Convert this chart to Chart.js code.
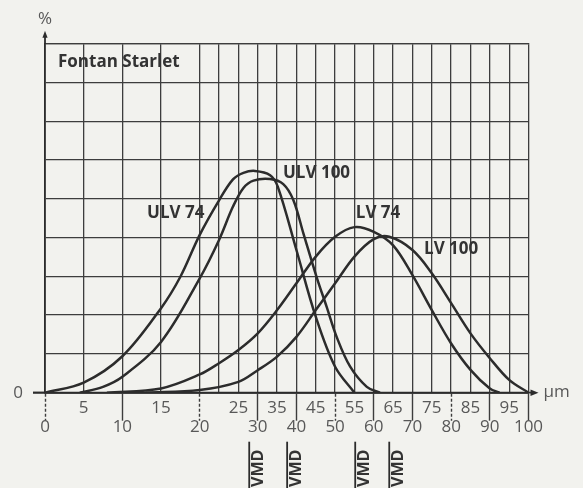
<!DOCTYPE html>
<html>
<head>
<meta charset="utf-8">
<script src="https://cdn.jsdelivr.net/npm/chart.js@4.4.1/dist/chart.umd.min.js"></script>
<style>
  html, body { margin: 0; padding: 0; background: #f2f2ee; }
  canvas { display: block; }
</style>
</head>
<body>
<canvas id="spectrum" width="583" height="488"></canvas>
<script>
// droplet spectra, [droplet size in µm, share in %]
const ulv74 = [[0,0],[5,0.26],[10,0.94],[15,2.18],[17.5,2.99],[20,4.07],[22.5,4.96],[24.3,5.5],[26.3,5.67],[29.3,5.72],[33.2,5.61],[35.2,5.31],[40,3.68],[45,1.96],[50,0.67],[55,0]];
const ulv100 = [[4.5,0],[7.5,0.15],[10,0.41],[15,1.31],[20,2.95],[22.5,3.94],[24.3,4.8],[26.3,5.28],[28.9,5.47],[33.2,5.51],[36.6,5.38],[39.2,4.97],[41.8,4.11],[45.2,2.99],[47.8,2.22],[50.4,1.44],[53.9,0.67],[58.2,0.15],[61.6,0]];
const lv74 = [[8,0],[15,0.11],[20,0.47],[22.5,0.76],[25,1.1],[30,1.53],[35,2.13],[40,2.82],[45,3.51],[50,4.02],[55,4.27],[60,4.15],[65,3.8],[70,3.03],[75,2.13],[80,1.27],[85,0.59],[90,0.11],[92.5,0]];
const lv100 = [[13,0],[20,0.07],[25,0.28],[30,0.58],[35,0.93],[40,1.44],[45,2.13],[50,2.82],[55,3.51],[60,3.96],[64,4.02],[70,3.68],[75,3.08],[80,2.31],[85,1.53],[90,0.89],[95,0.33],[100,0]];

const seriesNames = ['ULV 74', 'ULV 100', 'LV 74', 'LV 100'];
const vmdValues = [27.8, 37.6, 55.2, 64];   // µm

const upperTicks = [5, 15, 25, 35, 45, 55, 65, 75, 85, 95];
const lowerTicks = [0, 10, 20, 30, 40, 50, 60, 70, 80, 90, 100];

const ink = '#2c2c2c';
const gridInk = '#3d3d3d';
const labelInk = '#585858';
const fontFamily = '"Open Sans", "Noto Sans", sans-serif';

// the paper has 25 narrow columns; 0-25 µm uses 2.5 µm per column, above that 5 µm
function umToColumn(v) {
  return v <= 25 ? v / 2.5 : 10 + (v - 25) / 5;
}
function columnToUm(c) {
  return c <= 10 ? c * 2.5 : 25 + (c - 10) * 5;
}

class PiecewiseScale extends Chart.LinearScale {
  getPixelForValue(value) {
    if (value === null || value === undefined) return NaN;
    return this.getPixelForDecimal(umToColumn(value) / 25);
  }
  getValueForPixel(pixel) {
    return columnToUm(this.getDecimalForPixel(pixel) * 25);
  }
}
PiecewiseScale.id = 'piecewise';
PiecewiseScale.defaults = {};
Chart.register(PiecewiseScale);

// grid columns: 4 wide ones, then 17 narrow ones
const paperLines = [0, 2, 4, 6];
for (let c = 8; c <= 25; c++) paperLines.push(c);

const labelAnchors = [[16.9, 4.63], [45.2, 5.66], [61.1, 4.63], [80, 3.7]];

const decorations = {
  id: 'decorations',
  afterDraw(chart) {
    const { ctx, chartArea: a, scales } = chart;
    const x = scales.x, y = scales.y;
    ctx.save();
    ctx.strokeStyle = ink;
    ctx.fillStyle = ink;
    ctx.lineWidth = 1.8;

    // axis extensions with arrows
    ctx.beginPath();
    ctx.moveTo(a.left - 12, a.bottom);
    ctx.lineTo(a.right + 4, a.bottom);
    ctx.moveTo(a.left, a.top);
    ctx.lineTo(a.left, a.top - 8);
    ctx.stroke();
    ctx.beginPath();
    ctx.moveTo(a.right + 10, a.bottom);
    ctx.lineTo(a.right + 2, a.bottom - 3.2);
    ctx.lineTo(a.right + 2, a.bottom + 3.2);
    ctx.closePath();
    ctx.fill();
    ctx.beginPath();
    ctx.moveTo(a.left, a.top - 13);
    ctx.lineTo(a.left - 2.6, a.top - 6);
    ctx.lineTo(a.left + 2.6, a.top - 6);
    ctx.closePath();
    ctx.fill();

    // axis units
    ctx.fillStyle = labelInk;
    ctx.font = '17px ' + fontFamily;
    ctx.textBaseline = 'middle';
    ctx.textAlign = 'left';
    ctx.fillText('µm', a.right + 15, a.bottom - 1);
    ctx.textAlign = 'center';
    ctx.fillText('%', a.left, a.top - 25);

    // title and curve names
    ctx.fillStyle = '#333';
    ctx.font = 'bold 17px ' + fontFamily;
    ctx.textAlign = 'left';
    ctx.fillText('Fontan Starlet', a.left + 13, a.top + 18.5);
    ctx.textAlign = 'center';
    seriesNames.forEach((name, i) => {
      const [um, pct] = labelAnchors[i];
      ctx.fillText(name, x.getPixelForValue(um), y.getPixelForValue(pct));
    });

    // VMD markers under the axis
    ctx.font = 'bold 16px ' + fontFamily;
    ctx.textAlign = 'left';
    ctx.textBaseline = 'alphabetic';
    ctx.lineWidth = 1.8;
    vmdValues.forEach(v => {
      const px = x.getPixelForValue(v);
      ctx.beginPath();
      ctx.moveTo(px, a.bottom + 49);
      ctx.lineTo(px, chart.height);
      ctx.stroke();
      ctx.save();
      ctx.translate(px + 1.5, chart.height - 1);
      ctx.rotate(-Math.PI / 2);
      ctx.fillText('VMD', 0, 12.5);
      ctx.restore();
    });
    ctx.restore();
  }
};

const ctx = document.getElementById('spectrum').getContext('2d');
const curves = [ulv74, ulv100, lv74, lv100];

new Chart(ctx, {
  type: 'line',
  data: {
    datasets: curves.map((pts, i) => ({
      label: seriesNames[i],
      data: pts.map(p => ({ x: p[0], y: p[1] })),
      borderColor: ink,
      borderWidth: 2.5,
      pointRadius: 0,
      fill: false,
      tension: 0.35
    }))
  },
  options: {
    responsive: false,
    animation: false,
    devicePixelRatio: 1,
    layout: { padding: { left: 0, right: 54.5, top: 0, bottom: 0 } },
    plugins: { legend: { display: false }, tooltip: { enabled: false } },
    scales: {
      x: {
        type: 'piecewise',
        position: 'bottom',
        min: 0,
        max: 100,
        afterBuildTicks: s => { s.ticks = upperTicks.concat(lowerTicks).sort((p, q) => p - q).map(v => ({ value: v })); },
        afterFit: s => { s.height = 95.3; },
        grid: {
          drawOnChartArea: false,
          drawTicks: true,
          tickLength: 28,
          tickWidth: 1.4,
          tickColor: c => (c.tick && c.tick.value % 10 === 0) ? gridInk : 'rgba(0,0,0,0)',
          tickBorderDash: c => (c.tick && [0, 20, 50, 80].includes(c.tick.value)) ? [3, 2] : []
        },
        border: { display: true, color: ink, width: 1.8 },
        ticks: {
          autoSkip: false,
          maxRotation: 0,
          minRotation: 0,
          padding: -22.2,
          color: labelInk,
          font: { family: fontFamily, size: 17, lineHeight: 19 / 17 },
          callback: v => v % 10 === 0 ? ['', String(v)] : [String(v), '']
        }
      },
      paper: {
        type: 'linear',
        position: 'top',
        min: 0,
        max: 25,
        afterBuildTicks: s => { s.ticks = paperLines.map(v => ({ value: v })); },
        afterFit: s => { s.height = 43.7; },
        ticks: { display: false },
        grid: { drawTicks: false, color: gridInk, lineWidth: 1.3 },
        border: { display: true, color: gridInk, width: 1.3 }
      },
      y: {
        type: 'linear',
        position: 'left',
        min: 0,
        max: 9,
        afterFit: s => { s.width = 45; },
        ticks: {
          stepSize: 1,
          padding: 10,
          color: labelInk,
          font: { family: fontFamily, size: 17 },
          callback: v => v === 0 ? '0' : ''
        },
        grid: {
          color: gridInk,
          lineWidth: 1.3,
          tickLength: 12,
          tickWidth: 1.8,
          tickColor: c => (c.tick && c.tick.value === 0) ? ink : 'rgba(0,0,0,0)'
        },
        border: { display: true, color: ink, width: 1.8 }
      }
    }
  },
  plugins: [decorations]
});
</script>
</body>
</html>
